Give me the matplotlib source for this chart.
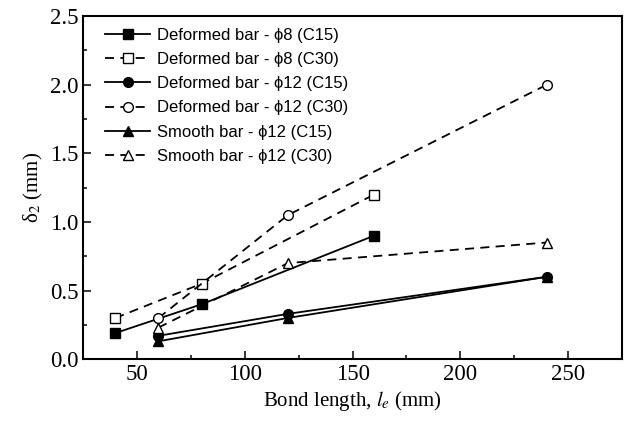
import matplotlib
matplotlib.use('Agg')
import matplotlib.pyplot as plt
from matplotlib.ticker import MultipleLocator

plt.rcParams['font.family'] = 'Liberation Serif'
plt.rcParams['mathtext.fontset'] = 'stix'

# data
x_d8 = [40, 80, 160]
y_d8_c15 = [0.19, 0.40, 0.90]
y_d8_c30 = [0.30, 0.55, 1.20]
x_12 = [60, 120, 240]
y_d12_c15 = [0.17, 0.33, 0.60]
y_d12_c30 = [0.30, 1.05, 2.00]
y_s12_c15 = [0.13, 0.30, 0.60]
y_s12_c30 = [0.23, 0.70, 0.85]

labels = ['Deformed bar - \u03d58 (C15)', 'Deformed bar - \u03d58 (C30)',
          'Deformed bar - \u03d512 (C15)', 'Deformed bar - \u03d512 (C30)',
          'Smooth bar - \u03d512 (C15)', 'Smooth bar - \u03d512 (C30)']

fig = plt.figure(figsize=(6.29, 4.26), dpi=100)
ax = fig.add_axes([0.132, 0.157, 0.857, 0.805])

dash = (0, (5, 3.5))
kw = dict(color='black', lw=1.3, ms=7)
ax.plot(x_d8, y_d8_c15, '-s', mfc='black', label=labels[0], **kw)
ax.plot(x_d8, y_d8_c30, 's', ls=dash, mfc='white', label=labels[1], **kw)
ax.plot(x_12, y_d12_c15, '-o', mfc='black', label=labels[2], **kw)
ax.plot(x_12, y_d12_c30, 'o', ls=dash, mfc='white', label=labels[3], **kw)
ax.plot(x_12, y_s12_c15, '-^', mfc='black', label=labels[4], **kw)
ax.plot(x_12, y_s12_c30, '^', ls=dash, mfc='white', label=labels[5], **kw)

ax.set_xlim(25, 275)
ax.set_ylim(0, 2.5)
ax.xaxis.set_major_locator(MultipleLocator(50))
ax.xaxis.set_minor_locator(MultipleLocator(25))
ax.yaxis.set_major_locator(MultipleLocator(0.5))
ax.yaxis.set_minor_locator(MultipleLocator(0.25))
ax.yaxis.set_major_formatter(matplotlib.ticker.FormatStrFormatter('%.1f'))
ax.tick_params(which='both', direction='in', top=False, right=False, labelsize=16.5, width=1.1)
ax.tick_params(axis='y', pad=3)
ax.tick_params(which='major', length=6)
ax.tick_params(which='minor', length=3)
for s in ax.spines.values():
    s.set_linewidth(1.5)

ax.set_xlabel('Bond length, $l_e$ (mm)', fontsize=15, labelpad=3)
ax.set_ylabel('\u03b4$_2$ (mm)', fontsize=15, labelpad=4)

leg = ax.legend(loc='upper left', frameon=False, prop={'family': 'Liberation Sans', 'size': 12},
                handlelength=2.65, handletextpad=0.45, labelspacing=0.55,
                borderaxespad=0.3, bbox_to_anchor=(0.02, 1.0))

fig.savefig('out.png', dpi=100)
